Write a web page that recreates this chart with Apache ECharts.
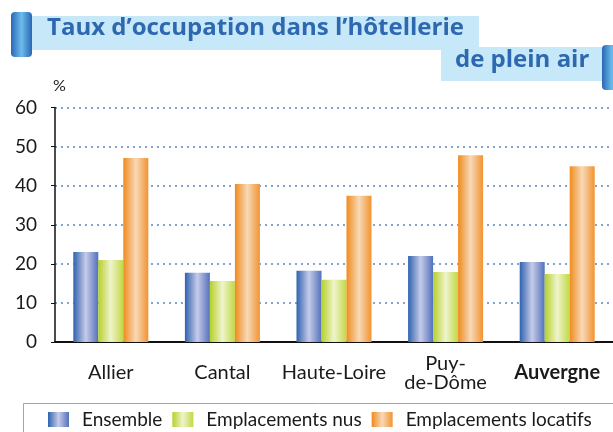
<!DOCTYPE html>
<html>
<head>
<meta charset="utf-8">
<script src="https://cdn.jsdelivr.net/npm/echarts@6/dist/echarts.min.js"></script>
<style>
  html, body { margin: 0; padding: 0; background: #fff; }
  #chart { width: 613px; height: 432px; }
</style>
</head>
<body>
<div id="chart"></div>
<script>
const categories = ['Allier', 'Cantal', 'Haute-Loire', 'Puy-de-Dôme', 'Auvergne']
const seriesNames = ['Ensemble', 'Emplacements nus', 'Emplacements locatifs']
const ensemble = [23.0, 17.7, 18.2, 22.0, 20.5]
const nus = [21.0, 15.6, 15.9, 17.9, 17.4]
const locatifs = [47.1, 40.4, 37.4, 47.8, 45.0]
const yTicks = [0, 10, 20, 30, 40, 50, 60]

const FONT = 'Lato'
const TITLE_FONT = '"Open Sans"'

function grad(a, b, c) {
    return {
        type: 'linear', x: 0, y: 0, x2: 1, y2: 0,
        colorStops: [
            { offset: 0, color: a },
            { offset: 0.5, color: b },
            { offset: 1, color: c }
        ]
    }
}

const colors = [
    grad('#2f62b0', '#c6cbe8', '#5271bc'),
    grad('#b6d028', '#eff4cc', '#c2d844'),
    grad('#f08b1c', '#f7d9b8', '#f29330')
]

const capsule = grad('#2a66b4', '#6cbcec', '#2a66b4')

const chart = echarts.init(document.getElementById('chart'))

const option = {
    animation: false,
    textStyle: { fontFamily: FONT },
    grid: { left: 55, right: -2, top: 107.5, bottom: 90 },
    legend: {
        left: 43, top: 405,
        itemWidth: 21, itemHeight: 15, itemGap: 10,
        icon: 'rect',
        textStyle: { fontSize: 19, color: '#1a1a1a', padding: [0, 0, 0, 8] },
        data: seriesNames
    },
    xAxis: {
        type: 'category',
        data: categories,
        axisLine: { lineStyle: { color: '#111', width: 2 } },
        axisTick: { show: false },
        axisLabel: {
            interval: 0,
            margin: 31,
            verticalAlign: 'middle',
            fontSize: 20,
            lineHeight: 19,
            color: '#1a1a1a',
            formatter: (v) => {
                if (v === 'Puy-de-Dôme') return 'Puy-\nde-Dôme'
                if (v === 'Auvergne') return '{b|' + v + '}'
                return v
            },
            rich: { b: { fontWeight: 'bold', fontSize: 20, fontFamily: FONT, color: '#1a1a1a' } }
        }
    },
    yAxis: {
        type: 'value',
        min: yTicks[0], max: yTicks[yTicks.length - 1], interval: 10,
        axisLine: { show: true, lineStyle: { color: '#111', width: 1.5 } },
        axisTick: { show: true, length: 4, lineStyle: { color: '#111' } },
        axisLabel: { fontSize: 19, color: '#1a1a1a', margin: 18 },
        splitLine: { lineStyle: { color: '#5b86c4', type: [2, 4], width: 1.5 } }
    },
    series: [ensemble, nus, locatifs].map((d, i) => ({
        name: seriesNames[i],
        type: 'bar',
        data: d,
        barWidth: 25,
        barGap: '0%',
        itemStyle: { color: colors[i] }
    })),
    graphic: [
        { type: 'rect', shape: { x: 32, y: 16, width: 447, height: 34 }, style: { fill: '#c6e8f8' } },
        { type: 'rect', shape: { x: 441, y: 47, width: 161, height: 34 }, style: { fill: '#c6e8f8' } },
        { type: 'rect', shape: { x: 11, y: 12, width: 21, height: 45, r: 4 }, style: { fill: capsule } },
        { type: 'rect', shape: { x: 602, y: 45, width: 20, height: 45, r: 4 }, style: { fill: capsule } },
        {
            type: 'text', left: 47, top: 16,
            style: { text: 'Taux d’occupation dans l’hôtellerie', fill: '#2d68b0', font: 'bold 24px ' + TITLE_FONT }
        },
        {
            type: 'text', left: 455, top: 48,
            style: { text: 'de plein air', fill: '#2d68b0', font: 'bold 24px ' + TITLE_FONT }
        },
        {
            type: 'text', left: 53, top: 78,
            style: { text: '%', fill: '#1a1a1a', font: '16px ' + FONT }
        },
        { type: 'rect', shape: { x: 23.5, y: 403.5, width: 600, height: 40 }, style: { fill: 'none', stroke: '#8fa8d2', lineWidth: 1 } }
    ]
}

chart.setOption(option)
</script>
</body>
</html>
